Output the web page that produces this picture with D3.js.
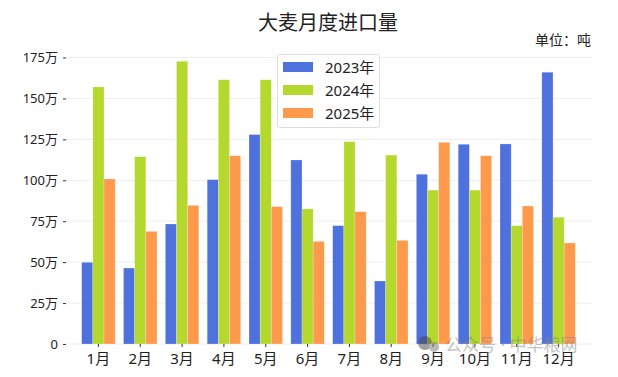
<!DOCTYPE html>
<html>
<head>
<meta charset="utf-8">
<script src="https://cdn.jsdelivr.net/npm/d3@7"></script>
<style>
  html, body { margin: 0; padding: 0; background: #fff; }
  svg { display: block; }
  text { font-family: "Noto Sans", "Noto Sans CJK SC", sans-serif; fill: #222; }
  .axis path { display: none; }
</style>
</head>
<body>
<svg id="chart"></svg>
<script>
const months = ['1月','2月','3月','4月','5月','6月','7月','8月','9月','10月','11月','12月'];
const years = ['2023年','2024年','2025年'];
// 单位：万吨
const values2023 = [49.9,46.4,73.3,100.4,127.9,112.4,72.3,38.5,103.7,122,122.2,166];
const values2024 = [157,114.4,172.7,161.4,161.4,82.5,123.6,115.4,94,94,72.3,77.4];
const values2025 = [100.8,68.8,84.7,115,83.9,62.7,80.8,63.3,123.2,115,84.3,61.7];
const yTicks = [0,25,50,75,100,125,150,175];
const colors = ['#4f71de','#b5d82f','#ff9a4d'];

const width = 618, height = 377;
const series = [values2023, values2024, values2025];

const svg = d3.select('#chart').attr('width', width).attr('height', height);

const gridLeft = 66, gridRight = 592;

const xScale = d3.scaleBand().domain(months).range([77.5, 579.5]).paddingInner(0.2).paddingOuter(0.1);
const xSub = d3.scaleBand().domain(years).range([0, xScale.bandwidth()]);
const yScale = d3.scaleLinear().domain([0, 175]).range([344, 57.5]);

// grid lines
svg.append('g').selectAll('line')
    .data(yTicks)
  .join('line')
    .attr('x1', gridLeft)
    .attr('x2', gridRight)
    .attr('y1', d => yScale(d))
    .attr('y2', d => yScale(d))
    .attr('stroke', '#eeeeee')
    .attr('stroke-width', 1);

// bars
const groups = svg.append('g').selectAll('g')
    .data(series)
  .join('g')
    .attr('fill', (d, i) => colors[i]);

groups.each(function(vals, i) {
  d3.select(this).selectAll('rect')
      .data(vals)
    .join('rect')
      .attr('x', (d, j) => xScale(months[j]) + xSub(years[i]))
      .attr('y', d => yScale(d))
      .attr('width', xSub.bandwidth())
      .attr('height', d => yScale(0) - yScale(d))
      .attr('stroke', 'white')
      .attr('stroke-opacity', 0.35)
      .attr('stroke-width', 0.6);
});

// axes
const xAxis = d3.axisBottom(xScale).tickSize(3).tickPadding(3);
svg.append('g')
    .attr('class', 'axis')
    .attr('transform', 'translate(0,344)')
    .call(xAxis)
    .call(g => g.selectAll('text').style('font-size', '15px').attr('dy', '0.9em'))
    .call(g => g.selectAll('line').attr('stroke', '#333'));

const yAxis = d3.axisLeft(yScale)
    .tickValues(yTicks)
    .tickSize(3)
    .tickPadding(5)
    .tickFormat(d => d === 0 ? '0' : d + '万');
svg.append('g')
    .attr('class', 'axis')
    .attr('transform', 'translate(66,0)')
    .call(yAxis)
    .call(g => g.selectAll('text').style('font-size', '13px'))
    .call(g => g.selectAll('line').attr('stroke', '#333'));

// title and unit
svg.append('text')
    .attr('x', 328).attr('y', 30)
    .attr('text-anchor', 'middle')
    .style('font-size', '20px')
    .text('大麦月度进口量');

svg.append('text')
    .attr('x', 591).attr('y', 45)
    .attr('text-anchor', 'end')
    .style('font-size', '14px')
    .text('单位：吨');

// legend
const legend = svg.append('g');
legend.append('rect')
    .attr('x', 277.5).attr('y', 54.5)
    .attr('width', 102).attr('height', 73)
    .attr('rx', 2)
    .attr('fill', 'white')
    .attr('fill-opacity', 0.85)
    .attr('stroke', '#dddddd');

const legendItems = legend.selectAll('g')
    .data(years)
  .join('g')
    .attr('transform', (d, i) => `translate(283,${62 + i * 23})`);

legendItems.append('rect')
    .attr('width', 30).attr('height', 10)
    .attr('fill', (d, i) => colors[i]);

legendItems.append('text')
    .attr('x', 42).attr('y', 11)
    .style('font-size', '15px')
    .text(d => d);

// watermark
const mark = svg.append('g').attr('opacity', 0.5);
mark.append('circle').attr('cx', 425).attr('cy', 343).attr('r', 7).attr('fill', '#444');
mark.append('circle').attr('cx', 434).attr('cy', 347).attr('r', 5).attr('fill', '#777');
mark.append('text')
    .attr('x', 445).attr('y', 351)
    .style('font-size', '17px')
    .style('fill', '#888')
    .text('公众号 · 中华粮网');
</script>
</body>
</html>
